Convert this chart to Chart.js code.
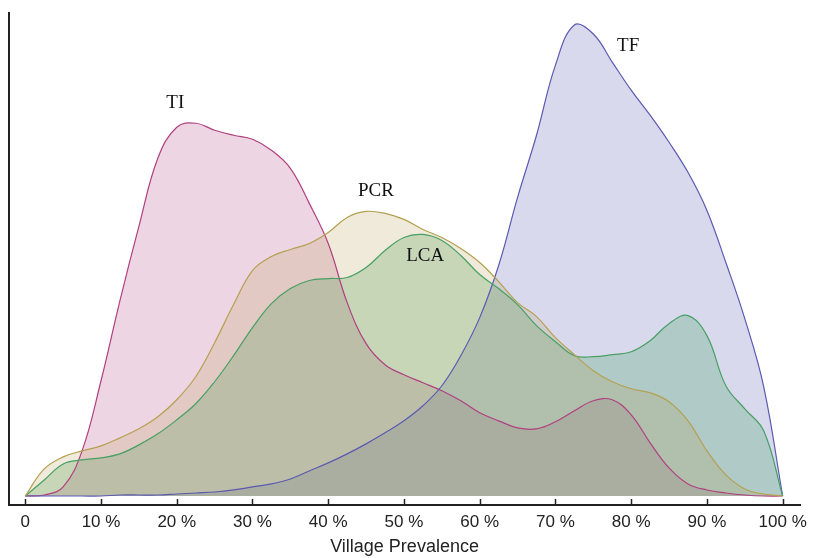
<!DOCTYPE html>
<html>
<head>
<meta charset="utf-8">
<script src="https://cdn.jsdelivr.net/npm/chart.js@4"></script>
<style>
  html, body { margin: 0; padding: 0; background: #fff; }
  #wrap { width: 814px; height: 558px; }
</style>
</head>
<body>
<div id="wrap"><canvas id="densChart" width="814" height="558"></canvas></div>
<script>
// ── Data (village prevalence %, density in arbitrary units) ──
const prevalence = [0, 2.5, 5, 7.5, 10, 12.5, 15, 17.5, 20, 22.5, 25, 27.5, 30, 32.5, 35, 37.5, 40,
  42.5, 45, 47.5, 50, 52.5, 55, 57.5, 60, 62.5, 65, 67.5, 70, 72.5, 75, 77.5, 80, 82.5, 85, 87.5,
  90, 92.5, 95, 97.5, 100];

const tiDensity = [0, 1, 9, 45, 115, 195, 269, 337, 368, 372, 365, 360, 356, 345, 327, 292, 252,
  193, 152, 131, 121, 113, 105, 95, 83, 75, 68, 67, 74, 85, 95, 96, 81, 53, 28, 12,
  6, 3, 1, 0, 0];

const pcrDensity = [0, 27, 39, 45, 50, 58, 67, 79, 96, 119, 153, 191, 225, 239, 246, 252, 263,
  278, 284, 282, 276, 266, 258, 247, 233, 214, 193, 179, 158, 141, 125, 114, 107, 103, 94, 75,
  45, 21, 7, 2, 0];

const lcaDensity = [0, 16, 32, 36, 38, 42, 51, 62, 76, 92, 114, 140, 168, 192, 207, 215, 217,
  218, 228, 245, 258, 261, 255, 240, 221, 207, 191, 170, 154, 140, 139, 141, 144, 155, 172, 180,
  160, 110, 87, 65, 0];

const tfDensity = [0, 0, 0, 0, 0, 1, 1, 1, 2, 3, 4, 6, 9, 12, 17, 25, 33,
  42, 52, 63, 75, 90, 110, 140, 178, 230, 298, 360, 430, 470, 461, 433, 405, 380, 353, 323,
  285, 233, 177, 109, 0];

const xTicks = [0, 10, 20, 30, 40, 50, 60, 70, 80, 90, 100];

// curve names written next to each peak
const curveNames = ['TI', 'PCR', 'LCA', 'TF'];
const namePrevalence = [19.8, 46.3, 52.8, 79.6];
const nameDensity = [392, 304, 239, 449];

const toPoints = ys => ys.map((y, i) => ({ x: prevalence[i], y }));

// ── Plugins ──
const innerTicks = {
  id: 'innerTicks',
  afterDraw(chart) {
    const { ctx, scales: { x, y } } = chart;
    const base = y.getPixelForValue(y.min);
    ctx.save();
    ctx.strokeStyle = '#222';
    ctx.lineWidth = 1.5;
    xTicks.forEach(v => {
      const px = Math.round(x.getPixelForValue(v)) + 0.5;
      ctx.beginPath();
      ctx.moveTo(px, base);
      ctx.lineTo(px, base - 6);
      ctx.stroke();
    });
    ctx.restore();
  }
};

const curveLabels = {
  id: 'curveLabels',
  afterDatasetsDraw(chart) {
    const { ctx, scales: { x, y } } = chart;
    ctx.save();
    ctx.font = '19px "Liberation Serif", "Times New Roman", serif';
    ctx.fillStyle = '#111';
    ctx.textAlign = 'center';
    ctx.textBaseline = 'middle';
    curveNames.forEach((name, i) => {
      ctx.fillText(name, x.getPixelForValue(namePrevalence[i]), y.getPixelForValue(nameDensity[i]));
    });
    ctx.restore();
  }
};

// ── Density Chart ──
function series(label, data, rgb, alpha) {
  return {
    label,
    data: toPoints(data),
    borderColor: `rgb(${rgb})`,
    backgroundColor: `rgba(${rgb},${alpha})`,
    borderWidth: 1.2,
    fill: 'origin',
    pointRadius: 0,
    tension: 0.4,
  };
}

// index 0 ends up on top; all fills go under all lines
new Chart(document.getElementById('densChart'), {
  type: 'line',
  data: {
    datasets: [
      series('PCR', pcrDensity, '180,160,80', 0.22),
      series('LCA', lcaDensity, '70,160,100', 0.28),
      series('TF', tfDensity, '90,90,178', 0.23),
      series('TI', tiDensity, '176,64,128', 0.22),
    ]
  },
  options: {
    responsive: false,
    animation: false,
    layout: { autoPadding: false, padding: { left: 9, right: 11, top: 13, bottom: 0 } },
    plugins: {
      legend: { display: false },
      tooltip: { enabled: false },
      filler: { drawTime: 'beforeDatasetsDraw' }
    },
    scales: {
      x: {
        type: 'linear',
        min: -2.15,
        max: 102.3,
        afterBuildTicks: s => { s.ticks = xTicks.map(v => ({ value: v })); },
        grid: { display: false, drawTicks: false },
        border: { display: true, color: '#222', width: 2 },
        ticks: {
          padding: 7,
          color: '#222',
          font: { family: '"Liberation Sans", Arial, sans-serif', size: 17 },
          maxRotation: 0,
          callback: v => v === 0 ? '0' : v + ' %'
        },
        title: {
          display: true,
          text: 'Village Prevalence',
          color: '#222',
          font: { family: '"Liberation Sans", Arial, sans-serif', size: 18 },
          padding: { top: -3, bottom: 0 }
        }
      },
      y: {
        min: -9,
        max: 482,
        grid: { display: false, drawTicks: false },
        border: { display: true, color: '#222', width: 2 },
        ticks: { display: false }
      }
    }
  },
  plugins: [innerTicks, curveLabels]
});
</script>
</body>
</html>
